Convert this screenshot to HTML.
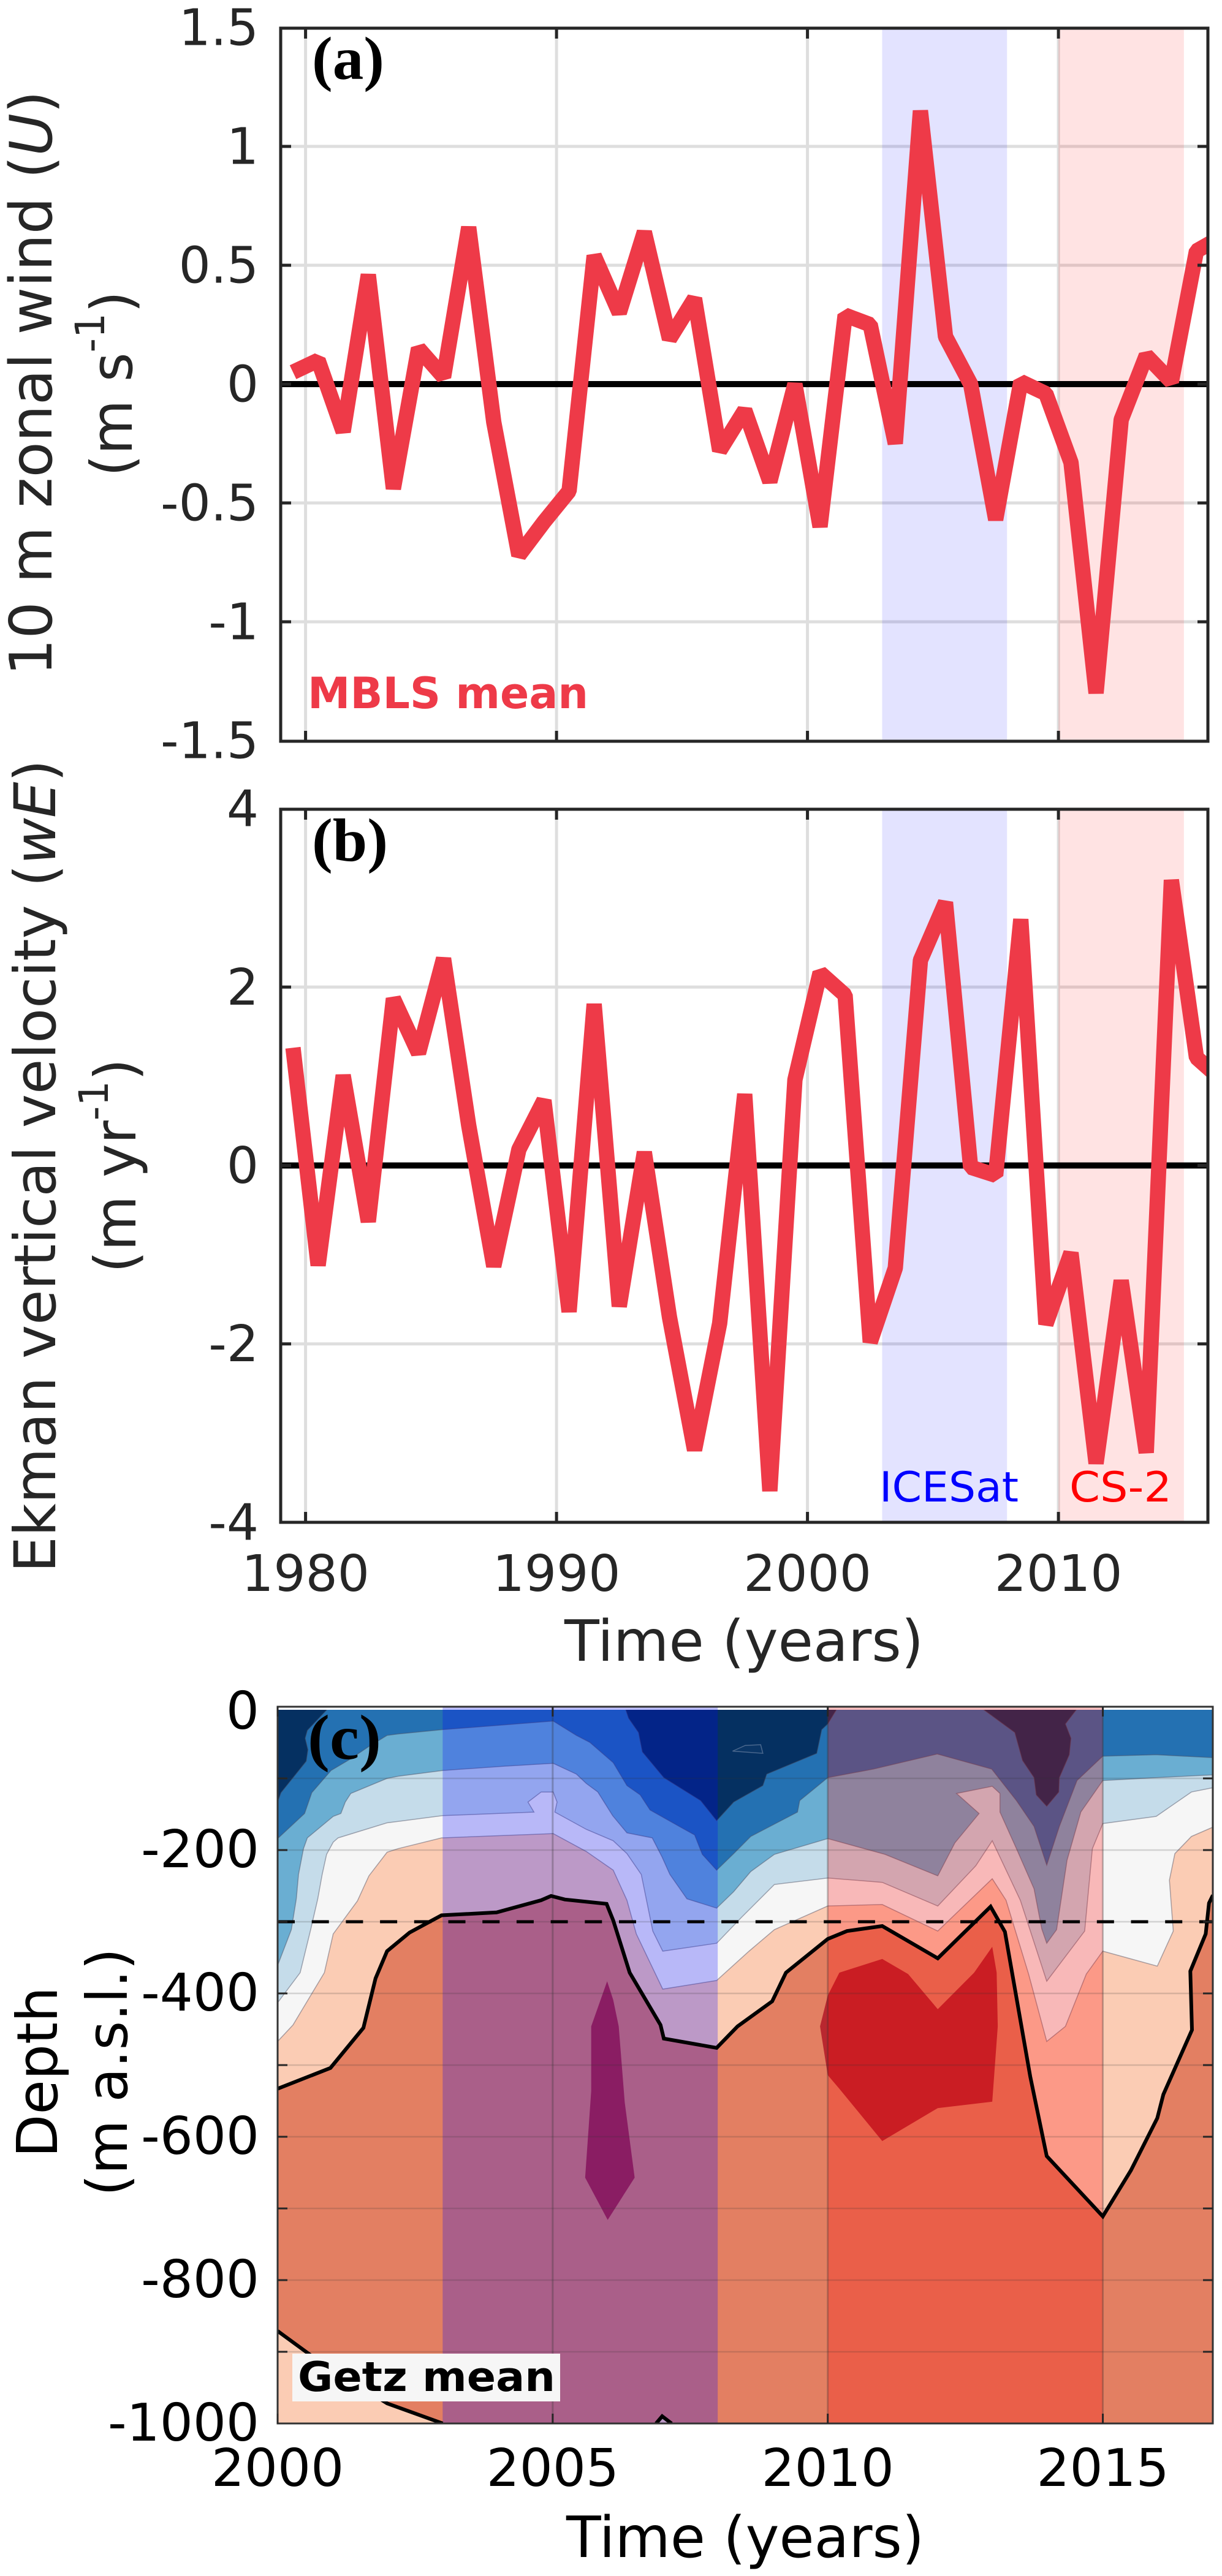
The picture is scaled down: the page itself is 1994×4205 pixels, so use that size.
<!DOCTYPE html>
<html lang="en">
<head>
<meta charset="utf-8">
<title>Wind, Ekman velocity and Getz temperature time series</title>
<style>
html,body{margin:0;padding:0;background:#fff}
svg{display:block}
text{font-family:"DejaVu Sans","Liberation Sans",sans-serif;fill:#262626}
.serif{font-family:"Liberation Serif",serif;font-weight:700;fill:#000}
</style>
</head>
<body>
<svg id="fig" xmlns="http://www.w3.org/2000/svg" width="1994" height="4205" viewBox="0 0 1994 4205">
  <defs>
    <clipPath id="clip-a"><rect x="458" y="46" width="1513" height="1164"/></clipPath>
    <clipPath id="clip-b"><rect x="458" y="1321" width="1513" height="1164"/></clipPath>
    <clipPath id="clip-c"><rect x="453" y="2791" width="1526" height="1165"/></clipPath>
    <clipPath id="clip-c-full"><rect x="453" y="2786" width="1526" height="1170"/></clipPath>
  </defs>
  <g id="panel-a"></g>
  <g id="panel-b"></g>
  <g id="panel-c"></g>

  <text transform="translate(84,1103) rotate(-90)" font-size="95" textLength="955" lengthAdjust="spacingAndGlyphs">10 m zonal wind (<tspan font-style="italic">U</tspan>)</text>
  <text transform="translate(215,778) rotate(-90)" font-size="94" textLength="303" lengthAdjust="spacingAndGlyphs">(m s<tspan font-size="66" dy="-45">-1</tspan><tspan dy="45">)</tspan></text>
  <text transform="translate(90,2567) rotate(-90)" font-size="94" textLength="1327" lengthAdjust="spacingAndGlyphs">Ekman vertical velocity (<tspan font-style="italic">wE</tspan>)</text>
  <text transform="translate(221,2078) rotate(-90)" font-size="94" textLength="350" lengthAdjust="spacingAndGlyphs">(m yr<tspan font-size="66" dy="-45">-1</tspan><tspan dy="45">)</tspan></text>
  <text x="921" y="2711" font-size="93" textLength="586" lengthAdjust="spacingAndGlyphs">Time (years)</text>
  <text transform="translate(93,3522) rotate(-90)" font-size="92" textLength="279" lengthAdjust="spacingAndGlyphs" style="fill:#000">Depth</text>
  <text transform="translate(207,3585) rotate(-90)" font-size="92" textLength="405" lengthAdjust="spacingAndGlyphs" style="fill:#000">(m a.s.l.)</text>
  <text x="924" y="4174" font-size="93" textLength="584" lengthAdjust="spacingAndGlyphs" style="fill:#000">Time (years)</text>

  <text class="serif" x="509" y="129" font-size="100" textLength="118" lengthAdjust="spacingAndGlyphs">(a)</text>
  <text class="serif" x="509" y="1405" font-size="100" textLength="124" lengthAdjust="spacingAndGlyphs">(b)</text>
  <text class="serif" x="502" y="2871" font-size="104" textLength="120" lengthAdjust="spacingAndGlyphs">(c)</text>

  <text x="502" y="1156" font-size="70" font-weight="700" textLength="458" lengthAdjust="spacingAndGlyphs" style="fill:#ee3a48">MBLS mean</text>
  <text x="1435" y="2451" font-size="68" textLength="227" lengthAdjust="spacingAndGlyphs" style="fill:#0000ff">ICESat</text>
  <text x="1745" y="2451" font-size="68" textLength="167" lengthAdjust="spacingAndGlyphs" style="fill:#ff0000">CS-2</text>
  <rect x="477" y="3842" width="437" height="78" fill="#f6f6f6"/>
  <text x="486" y="3903" font-size="67" font-weight="700" textLength="420" lengthAdjust="spacingAndGlyphs" style="fill:#000">Getz mean</text>
</svg>

<script>
// ---------- Panels (a) and (b): annual series ----------
const seriesYears = [1979.5,1980.5,1981.5,1982.5,1983.5,1984.5,1985.5,1986.5,1987.5,1988.5,1989.5,1990.5,1991.5,1992.5,1993.5,1994.5,1995.5,1996.5,1997.5,1998.5,1999.5,2000.5,2001.5,2002.5,2003.5,2004.5,2005.5,2006.5,2007.5,2008.5,2009.5,2010.5,2011.5,2012.5,2013.5,2014.5,2015.5,2016.5];
const zonalWind = [0.05,0.10,-0.20,0.46,-0.44,0.15,0.03,0.66,-0.16,-0.72,-0.58,-0.45,0.54,0.30,0.64,0.19,0.36,-0.28,-0.11,-0.41,0.00,-0.60,0.29,0.25,-0.25,1.15,0.20,0.00,-0.57,0.01,-0.04,-0.33,-1.30,-0.15,0.12,0.01,0.56,0.62];
const ekmanVelocity = [1.32,-1.12,1.01,-0.63,1.87,1.26,2.32,0.45,-1.13,0.18,0.73,-1.64,1.81,-1.58,0.15,-1.70,-3.19,-1.77,0.80,-3.65,0.96,2.16,1.91,-1.98,-1.15,2.30,2.95,-0.02,-0.11,2.76,-1.78,-0.98,-3.34,-1.29,-3.22,3.20,1.21,0.96];
const topXTicks = [1980,1990,2000,2010];
const windTicks = [1.5,1,0.5,0,-0.5,-1,-1.5];
const ekmanTicks = [4,2,0,-2,-4];
const icesatSpan = [2003,2008];
const cs2Span = [2010,2015];

// ---------- Panel (c): contour boundaries as [year, depth in m] ----------
const sectionXTicks = [2000,2005,2010,2015];
const sectionYTicks = [0,-200,-400,-600,-800,-1000];
const sectionGridDepths = [100,200,300,400,500,600,700,800,900];
const thermoclineDepth = 300;
const bandColors = ['#053061','#2471b2','#6aaed2','#c5dcea','#f6f6f6','#fbccb4','#e37f62','#b9272f'];
const deepContour = [[2000,533],[2000.96,504],[2001.56,448],[2001.78,379],[2001.99,341],[2002.4,315],[2002.98,291],[2003.98,287],[2004.79,270],[2004.97,264],[2005.22,269],[2005.98,275],[2006.1,298],[2006.4,371],[2006.96,444],[2007.02,463],[2007.98,476],[2008.36,446],[2008.99,411],[2009.24,371],[2010,324],[2010.35,313],[2010.99,306],[2012,351],[2012.96,279],[2013.22,314],[2013.68,516],[2013.98,627],[2015,711],[2015.51,647],[2015.99,574],[2016.1,541],[2016.62,451],[2016.59,369],[2016.87,317],[2016.93,274],[2017,263]];
const contour45 = [[2000,467],[2000.28,444],[2000.85,371],[2001.01,317],[2001.45,271],[2001.66,236],[2001.99,203],[2002.19,198],[2002.98,183],[2005.01,177],[2005.61,202],[2006.1,228],[2006.35,270],[2006.52,317],[2007,394],[2007.98,382],[2008.57,341],[2009.03,311],[2010,278],[2010.99,276],[2012,313],[2012.99,240],[2013.24,270],[2013.65,373],[2013.98,467],[2014.32,446],[2014.7,373],[2015,341],[2015.99,362],[2016.28,313],[2016.21,242],[2016.31,205],[2016.61,181],[2017,168]];
const contour34 = [[2000,413],[2000.41,371],[2000.6,311],[2000.73,268],[2000.81,234],[2000.89,206],[2001.01,189],[2001.1,183],[2001.99,162],[2002.19,160],[2003,152],[2004.66,147],[2004.55,133],[2004.79,119],[2005.01,119],[2005.08,133],[2005.04,147],[2005.61,171],[2006.1,187],[2006.35,205],[2006.61,234],[2006.82,313],[2007,341],[2007.98,330],[2008.43,294],[2009.03,248],[2010,239],[2010.99,245],[2012,278],[2012.69,222],[2012.99,187],[2013.5,270],[2013.98,383],[2014.67,313],[2014.81,198],[2015,163],[2015.97,153],[2016.61,119],[2017,113]];
const contour23 = [[2000,361],[2000.25,311],[2000.34,268],[2000.38,234],[2000.47,198],[2000.54,183],[2001.01,153],[2001.15,149],[2001.23,133],[2001.33,121],[2001.99,100],[2002.19,97],[2003,89],[2004.12,83],[2005.01,79],[2005.43,94],[2005.61,107],[2005.82,119],[2006.09,152],[2006.35,176],[2006.81,183],[2006.99,210],[2007.13,234],[2007.44,268],[2007.98,281],[2008.29,258],[2008.6,230],[2009.03,206],[2010,184],[2011.04,206],[2012,236],[2012.31,190],[2012.75,149],[2012.34,121],[2012.99,111],[2013.13,121],[2013.13,147],[2013.43,198],[2013.75,254],[2013.89,310],[2013.98,330],[2014.16,311],[2014.35,214],[2014.6,147],[2015,103],[2015.97,99],[2017,95]];
const contour12 = [[2000,184],[2000.49,149],[2000.62,120],[2000.97,89],[2001.3,74],[2001.67,55],[2001.99,40],[2002.19,38],[2003,32],[2005.01,20],[2005.43,40],[2005.68,50],[2006.1,78],[2006.35,110],[2006.59,123],[2006.77,144],[2007.3,167],[2007.58,179],[2007.72,206],[2007.98,228],[2008.29,205],[2008.6,181],[2009.45,147],[2009.49,131],[2010,99],[2010.83,87],[2011.99,66],[2012.98,87],[2013.43,131],[2013.75,167],[2013.98,221],[2014.21,167],[2014.53,103],[2015,69],[2015.97,67],[2017,71]];
const coldPatchLeft = [[2000,133],[2000.06,120],[2000.52,76],[2000.55,60],[2000.5,44],[2000.54,33],[2000.91,3],[2000.95,0]];
const coldPatchMid = [[2006.31,0],[2006.38,16],[2006.56,36],[2006.63,63],[2007.02,99],[2007.69,131],[2007.98,159],[2008.29,133],[2008.82,110],[2008.89,94],[2009.8,65],[2009.89,32],[2010,24],[2010.19,0]];
const coldPatchRight = [[2012.76,0],[2013.4,36],[2013.54,75],[2013.75,99],[2013.79,123],[2013.98,139],[2014.2,119],[2014.21,99],[2014.39,67],[2014.42,44],[2014.32,24],[2014.56,0]];
const coldPatchIsland = [[2008.27,62],[2008.5,54],[2008.78,53],[2008.82,65]];
const warmCoreRight = [[2009.86,446],[2010,403],[2010.21,371],[2010.99,352],[2011.46,373],[2012,422],[2012.66,371],[2012.99,335],[2013.07,371],[2013.09,446],[2012.99,551],[2012,560],[2010.99,606],[2010.21,533],[2010,514]];
const warmCoreLeft = [[2005.99,383],[2005.7,446],[2005.7,536],[2005.59,657],[2006,716],[2006.49,657],[2006.31,552],[2006.2,446],[2006.1,409]];
const lowerContour = [[2000,871],[2000.64,907],[2001.99,972],[2002.93,998],[2003,1000]];
const lowerTip = [[2006.88,1000],[2006.99,990],[2007.16,1000]];

// ---------- Axis functions ----------
const xSeries = y => 498.6 + (y - 1980) * 40.95;
const yWind = v => 627 - v * 388;
const yEkman = v => 1902.5 - v * 145.6;
const xSection = y => 453 + (y - 2000) * 89.77;
const ySection = d => 2786 + d * 1.17;

const NS = 'http://www.w3.org/2000/svg';
function make(parent, tag, attrs) {
  const el = document.createElementNS(NS, tag);
  for (const k in attrs) el.setAttribute(k, attrs[k]);
  parent.appendChild(el);
  return el;
}
const ptsSec = arr => arr.map(p => xSection(p[0]).toFixed(1) + ',' + ySection(p[1]).toFixed(1)).join(' ');

// ---------- Line panels ----------
function drawLinePanel(root, clipId, top, bottom, yFn, yTicks, values, showXLabels, lineName) {
  const left = 458, right = 1971;
  for (const t of yTicks) {
    if (t === yTicks[0] || t === yTicks[yTicks.length - 1] || t === 0) continue;
    const g = make(root, 'line', {x1: left, x2: right, y1: yFn(t), y2: yFn(t), stroke: '#dedede', 'stroke-width': 5});
    
    
  }
  for (const t of topXTicks) {
    const g = make(root, 'line', {x1: xSeries(t), x2: xSeries(t), y1: top, y2: bottom, stroke: '#dedede', 'stroke-width': 5});
    
    
  }
  const ice = make(root, 'rect', {x: xSeries(icesatSpan[0]) - 1, y: top, width: xSeries(icesatSpan[1]) - xSeries(icesatSpan[0]) - 1, height: bottom - top, fill: 'rgba(0,0,255,0.11)'});
  
  
  const cs = make(root, 'rect', {x: xSeries(cs2Span[0]), y: top, width: xSeries(cs2Span[1]) - xSeries(cs2Span[0]), height: bottom - top, fill: 'rgba(255,0,0,0.11)'});
  
  
  const zero = make(root, 'line', {x1: left, x2: right, y1: yFn(0), y2: yFn(0), stroke: '#000', 'stroke-width': 10});
  
  
  const pts = seriesYears.map((y, i) => xSeries(y).toFixed(1) + ',' + yFn(values[i]).toFixed(1)).join(' ');
  const line = make(root, 'polyline', {points: pts, fill: 'none', stroke: '#ee3a48', 'stroke-width': 25, 'stroke-linejoin': 'bevel', 'clip-path': 'url(#' + clipId + ')'});
  
  
  const box = make(root, 'rect', {x: left, y: top, width: right - left, height: bottom - top, fill: 'none', stroke: '#262626', 'stroke-width': 5});
  
  
  for (const t of topXTicks) {
    for (const [a, b] of [[top, top + 17], [bottom - 17, bottom]]) {
      const k = make(root, 'line', {x1: xSeries(t), x2: xSeries(t), y1: a, y2: b, stroke: '#262626', 'stroke-width': 5});
      
      
    }
    if (showXLabels) {
      const tx = make(root, 'text', {x: xSeries(t), y: 2597, 'font-size': 82, 'text-anchor': 'middle'});
      
      
      tx.textContent = t;
    }
  }
  for (const t of yTicks) {
    if (t !== yTicks[0] && t !== yTicks[yTicks.length - 1]) {
      for (const [a, b] of [[left, left + 17], [right - 17, right]]) {
        const k = make(root, 'line', {x1: a, x2: b, y1: yFn(t), y2: yFn(t), stroke: '#262626', 'stroke-width': 5});
        
        
      }
    }
    const tx = make(root, 'text', {x: 422, y: yFn(t) + 28.5, 'font-size': 82, 'text-anchor': 'end'});
    
    
    tx.textContent = t;
  }
}
drawLinePanel(document.getElementById('panel-a'), 'clip-a', 46, 1210, yWind, windTicks, zonalWind, false, 'zonal-wind-line');
drawLinePanel(document.getElementById('panel-b'), 'clip-b', 1321, 2485, yEkman, ekmanTicks, ekmanVelocity, true, 'ekman-velocity-line');

// ---------- Section panel ----------
const rootC = document.getElementById('panel-c');
const L = 453, R = 1979, T = 2786, B = 3956;
const clipped = make(rootC, 'g', {'clip-path': 'url(#clip-c)'});


const base = make(clipped, 'rect', {x: L, y: T, width: R - L, height: B - T, fill: bandColors[6]});


function fillAbove(arr, color, name) {
  const closed = arr.concat([[arr[arr.length - 1][0], 0], [arr[0][0], 0]]);
  const p = make(clipped, 'polygon', {points: ptsSec(closed), fill: color, stroke: 'rgba(70,70,90,0.45)', 'stroke-width': 1.5});
  
  
}
fillAbove(deepContour, bandColors[5], 'contour-band-peach');
fillAbove(contour45, bandColors[4], 'contour-band-neutral');
fillAbove(contour34, bandColors[3], 'contour-band-pale-blue');
fillAbove(contour23, bandColors[2], 'contour-band-light-blue');
fillAbove(contour12, bandColors[1], 'contour-band-blue');
fillAbove(coldPatchLeft, bandColors[0], 'contour-band-navy-left');
fillAbove(coldPatchMid, bandColors[0], 'contour-band-navy-middle');
fillAbove(coldPatchRight, bandColors[0], 'contour-band-navy-right');
const isl = make(clipped, 'polygon', {points: ptsSec(coldPatchIsland), fill: '#0a3566', stroke: 'rgba(120,140,170,0.6)', 'stroke-width': 1.5});


for (const [arr, name] of [[warmCoreRight, 'warm-core-2011'], [warmCoreLeft, 'warm-core-2006']]) {
  const p = make(clipped, 'polygon', {points: ptsSec(arr), fill: bandColors[7]});
  
  
}
const lowPoly = make(clipped, 'polygon', {points: ptsSec(lowerContour.concat([[2000, 1000]])), fill: bandColors[5]});


const tipPoly = make(clipped, 'polygon', {points: ptsSec(lowerTip), fill: bandColors[5]});



const patchBlue = make(rootC, 'rect', {x: xSection(icesatSpan[0]), y: T, width: xSection(icesatSpan[1]) - xSection(icesatSpan[0]), height: B - T, fill: 'rgba(0,0,255,0.25)'});


const patchRed = make(rootC, 'rect', {x: xSection(cs2Span[0]), y: T, width: xSection(cs2Span[1]) - xSection(cs2Span[0]), height: B - T, fill: 'rgba(255,0,0,0.25)'});



for (const d of sectionGridDepths) {
  const g = make(rootC, 'line', {x1: L, x2: R, y1: ySection(d), y2: ySection(d), stroke: 'rgba(50,50,50,0.18)', 'stroke-width': 2.5});
  
  
}
for (const t of sectionXTicks.slice(1)) {
  const g = make(rootC, 'line', {x1: xSection(t), x2: xSection(t), y1: T, y2: B, stroke: 'rgba(50,50,50,0.3)', 'stroke-width': 3});
  
  
}
const lineGroup = make(rootC, 'g', {'clip-path': 'url(#clip-c-full)'});


for (const [arr, name] of [[deepContour, 'upper-warm-contour-line'], [lowerContour, 'lower-warm-contour-line'], [lowerTip, 'lower-warm-contour-tip']]) {
  const p = make(lineGroup, 'polyline', {points: ptsSec(arr), fill: 'none', stroke: '#000', 'stroke-width': 6});
  
  
}
const dashed = make(lineGroup, 'line', {x1: L, x2: R, y1: ySection(thermoclineDepth), y2: ySection(thermoclineDepth), stroke: '#000', 'stroke-width': 5, 'stroke-dasharray': '28 27.7'});



const boxC = make(rootC, 'rect', {x: L, y: T, width: R - L, height: B - T, fill: 'none', stroke: '#333', 'stroke-width': 3});


for (const t of sectionXTicks) {
  for (const [a, b] of [[T, T + 16], [B - 16, B]]) {
    const k = make(rootC, 'line', {x1: xSection(t), x2: xSection(t), y1: a, y2: b, stroke: '#262626', 'stroke-width': 3});
    
    
  }
  const tx = make(rootC, 'text', {x: xSection(t), y: 4058, 'font-size': 85, 'text-anchor': 'middle', style: 'fill:#000'});
  
  
  tx.textContent = t;
}
for (const d of sectionGridDepths) {
  for (const [a, b] of [[L, L + 16], [R - 16, R]]) {
    const k = make(rootC, 'line', {x1: a, x2: b, y1: ySection(d), y2: ySection(d), stroke: '#262626', 'stroke-width': 3});
    
    
  }
}
for (const t of sectionYTicks) {
  const tx = make(rootC, 'text', {x: 423, y: ySection(-t) + (t === 0 ? 36 : 28), 'font-size': 85, 'text-anchor': 'end', style: 'fill:#000'});
  
  
  tx.textContent = t;
}
</script>
</body>
</html>
